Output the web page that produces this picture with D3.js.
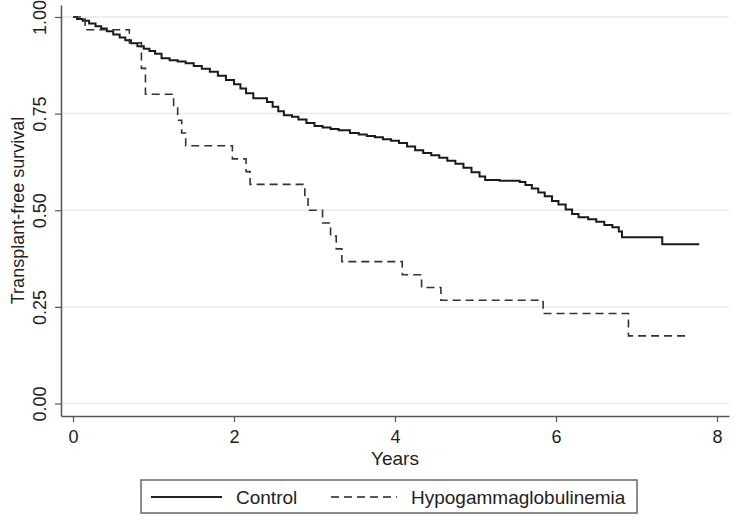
<!DOCTYPE html>
<html>
<head>
<meta charset="utf-8">
<script src="https://cdn.jsdelivr.net/npm/d3@7"></script>
<style>
  html, body { margin: 0; padding: 0; background: #fff; }
  svg { display: block; font-family: "Liberation Sans", Arial, Helvetica, sans-serif; }
</style>
</head>
<body>
<svg id="chart" width="735" height="523"></svg>
<script>
// ---- data ----
const seriesNames = ["Control", "Hypogammaglobulinemia"];
const controlTimes = [0,0.05,0.12,0.2,0.28,0.35,0.42,0.5,0.58,0.65,0.72,0.8,0.88,0.95,1.02,1.1,1.2,1.3,1.4,1.5,1.6,1.7,1.8,1.9,2.0,2.08,2.15,2.24,2.41,2.48,2.55,2.62,2.72,2.8,2.9,3.0,3.1,3.2,3.3,3.44,3.55,3.65,3.75,3.85,3.95,4.05,4.15,4.25,4.35,4.45,4.55,4.65,4.75,4.85,4.95,5.05,5.12,5.3,5.55,5.62,5.7,5.78,5.86,5.95,6.03,6.12,6.2,6.28,6.4,6.5,6.6,6.7,6.78,6.82,7.32,7.78];
const controlSurv  = [1.0,0.995,0.99,0.983,0.976,0.97,0.963,0.955,0.947,0.94,0.932,0.924,0.918,0.912,0.905,0.893,0.888,0.885,0.88,0.873,0.866,0.858,0.848,0.837,0.826,0.815,0.803,0.79,0.78,0.768,0.756,0.746,0.742,0.735,0.726,0.718,0.714,0.71,0.707,0.70,0.696,0.692,0.689,0.684,0.68,0.674,0.665,0.655,0.648,0.642,0.636,0.628,0.62,0.61,0.598,0.587,0.578,0.576,0.573,0.565,0.556,0.546,0.536,0.524,0.515,0.502,0.49,0.482,0.477,0.47,0.462,0.456,0.445,0.43,0.412,0.412];
const hypoTimes = [0,0.15,0.7,0.85,0.9,1.25,1.3,1.35,1.4,1.98,2.15,2.2,2.88,2.92,3.1,3.2,3.27,3.34,4.09,4.33,4.57,5.84,6.9,7.64];
const hypoSurv  = [1.0,0.967,0.933,0.867,0.80,0.767,0.733,0.70,0.667,0.633,0.60,0.567,0.533,0.50,0.467,0.433,0.40,0.367,0.333,0.30,0.267,0.233,0.175,0.175];
const xTicks = [0, 2, 4, 6, 8];
const yTicks = [0, 0.25, 0.5, 0.75, 1];
const yTickLabels = ["0.00", "0.25", "0.50", "0.75", "1.00"];
const xTitle = "Years";
const yTitle = "Transplant-free survival";

// ---- layout ----
const frame = { left: 61, right: 729, top: 5, bottom: 416 };
const svg = d3.select("#chart");

const x = d3.scaleLinear().domain([-0.149, 8.149]).range([frame.left, frame.right]);
const y = d3.scaleLinear().domain([-0.0323, 1.031]).range([frame.bottom, frame.top]);

const textColor = "#222";
const axisColor = "#555";

// gridlines
svg.append("g").selectAll("line").data(yTicks).join("line")
  .attr("x1", frame.left).attr("x2", frame.right)
  .attr("y1", d => y(d)).attr("y2", d => y(d))
  .attr("stroke", "#e9e9e9").attr("stroke-width", 1.5);

// y axis
const yAxis = svg.append("g")
  .attr("transform", `translate(${frame.left},0)`)
  .call(d3.axisLeft(y).tickValues(yTicks).tickSize(6).tickSizeOuter(0)
        .tickFormat((d, i) => yTickLabels[i]));
yAxis.select(".domain").attr("stroke", axisColor).attr("stroke-width", 1.5);
yAxis.selectAll(".tick line").attr("stroke", axisColor).attr("stroke-width", 1.2);
yAxis.selectAll(".tick text")
  .attr("transform", "rotate(-90)")
  .attr("x", 0).attr("y", -15).attr("dy", 0)
  .attr("text-anchor", "middle")
  .attr("fill", textColor)
  .style("font-size", "18px");

// x axis
const xAxis = svg.append("g")
  .attr("transform", `translate(0,${frame.bottom})`)
  .call(d3.axisBottom(x).tickValues(xTicks).tickSize(6).tickSizeOuter(0).tickFormat(d3.format("d")));
xAxis.select(".domain").attr("stroke", axisColor).attr("stroke-width", 1.5);
xAxis.selectAll(".tick line").attr("stroke", axisColor).attr("stroke-width", 1.2);
xAxis.selectAll(".tick text")
  .attr("y", 27).attr("dy", 0)
  .attr("fill", textColor)
  .style("font-size", "18px");

// axis titles
svg.append("text")
  .attr("x", (frame.left + frame.right) / 2).attr("y", 465)
  .attr("text-anchor", "middle").attr("fill", textColor)
  .style("font-size", "19px").text(xTitle);
svg.append("text")
  .attr("transform", `translate(24,${(frame.top + frame.bottom) / 2}) rotate(-90)`)
  .attr("text-anchor", "middle").attr("fill", textColor)
  .style("font-size", "18px").text(yTitle);

// curves
const line = d3.line().x(d => x(d[0])).y(d => y(d[1])).curve(d3.curveStepAfter);
const controlData = controlTimes.map((t, i) => [t, controlSurv[i]]);
const hypoData = hypoTimes.map((t, i) => [t, hypoSurv[i]]);

svg.append("path").datum(controlData)
  .attr("d", line).attr("fill", "none")
  .attr("stroke", "#1a1a1a").attr("stroke-width", 2);
svg.append("path").datum(hypoData)
  .attr("d", line).attr("fill", "none")
  .attr("stroke", "#333").attr("stroke-width", 1.6)
  .attr("stroke-dasharray", "8,5");

// legend
const legend = svg.append("g");
legend.append("rect")
  .attr("x", 141).attr("y", 480).attr("width", 496).attr("height", 33)
  .attr("fill", "#fff").attr("stroke", "#666").attr("stroke-width", 1.5);
const legItems = [
  { name: seriesNames[0], x1: 151, x2: 222, tx: 236, dash: null, w: 2 },
  { name: seriesNames[1], x1: 331, x2: 397, tx: 411, dash: "8,5", w: 1.6 }
];
legItems.forEach(it => {
  legend.append("line")
    .attr("x1", it.x1).attr("x2", it.x2).attr("y1", 497).attr("y2", 497)
    .attr("stroke", "#222").attr("stroke-width", it.w)
    .attr("stroke-dasharray", it.dash);
  legend.append("text")
    .attr("x", it.tx).attr("y", 504)
    .attr("fill", textColor).style("font-size", "19px")
    .text(it.name);
});
</script>
</body>
</html>
